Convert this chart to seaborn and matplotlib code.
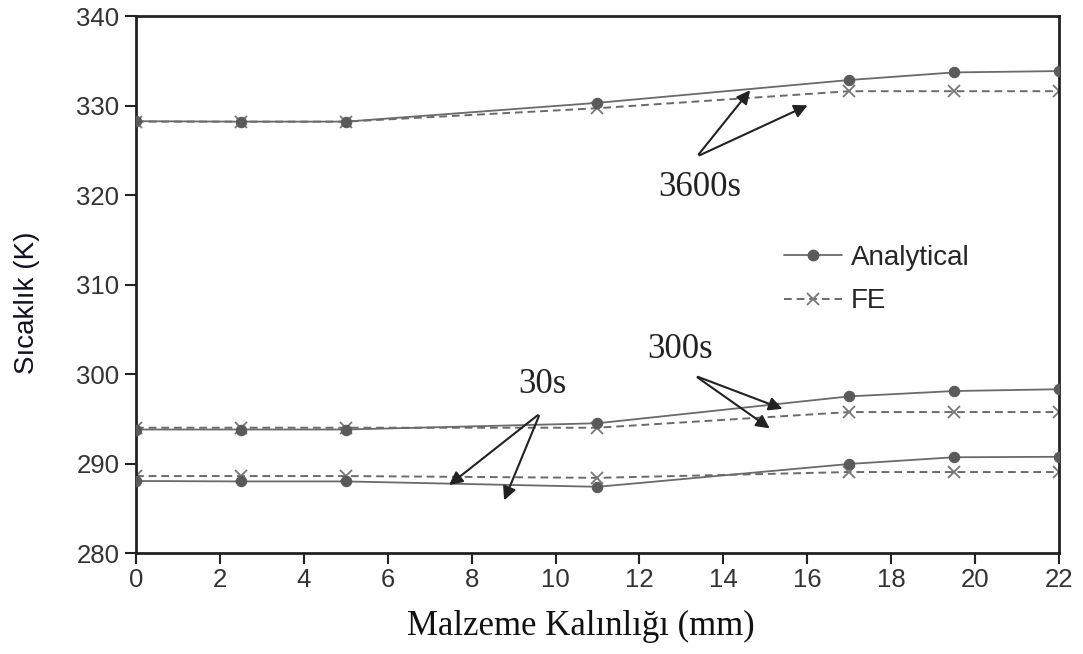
import matplotlib
matplotlib.use("Agg")
import matplotlib.pyplot as plt
import seaborn as sns
import pandas as pd
from matplotlib.lines import Line2D

# data
thickness = [0, 2.5, 5, 11, 17, 19.5, 22]
an_3600 = [328.25, 328.2, 328.2, 330.3, 332.85, 333.7, 333.85]
fe_3600 = [328.2, 328.2, 328.2, 329.7, 331.6, 331.6, 331.6]
an_300 = [293.8, 293.8, 293.8, 294.5, 297.5, 298.1, 298.3]
fe_300 = [294.0, 294.0, 294.0, 294.0, 295.75, 295.75, 295.75]
an_30 = [288.05, 288.0, 288.0, 287.4, 289.95, 290.7, 290.75]
fe_30 = [288.6, 288.6, 288.6, 288.4, 289.05, 289.05, 289.05]
x_ticks = [0, 2, 4, 6, 8, 10, 12, 14, 16, 18, 20, 22]
y_ticks = [280, 290, 300, 310, 320, 330, 340]

sns.set_style("ticks")
plt.rcParams['font.family'] = ['Liberation Sans', 'DejaVu Sans']

fig = plt.figure(figsize=(10.83, 6.54), dpi=100)
ax = fig.add_axes([0.1256, 0.1544, 0.8522, 0.8211])

rows = []
for t, an, fe in [("3600s", an_3600, fe_3600), ("300s", an_300, fe_300), ("30s", an_30, fe_30)]:
    for xv, a, f in zip(thickness, an, fe):
        rows.append({"x": xv, "y": a, "method": "Analytical", "time": t})
        rows.append({"x": xv, "y": f, "method": "FE", "time": t})
df = pd.DataFrame(rows)

line_col = "#6a6a6a"
mk_col = "#5a5a5a"
for t in ["3600s", "300s", "30s"]:
    sub_a = df[(df.time == t) & (df.method == "Analytical")]
    sub_f = df[(df.time == t) & (df.method == "FE")]
    sns.lineplot(data=sub_f, x="x", y="y", ax=ax, color=line_col, linestyle=(0, (4, 2.5)),
                 linewidth=1.4, marker="x", markersize=9, markeredgewidth=1.3,
                 markeredgecolor="#777777", legend=False, zorder=2)
    sns.lineplot(data=sub_a, x="x", y="y", ax=ax, color=line_col, linestyle="-",
                 linewidth=1.3, marker="o", markersize=7.5, markerfacecolor=mk_col,
                 markeredgecolor=mk_col, legend=False, zorder=3)

ax.set_xlim(0, 22)
ax.set_ylim(280, 340)
ax.set_xticks(x_ticks)
ax.set_yticks(y_ticks)
ax.tick_params(axis="both", direction="out", length=8, width=1.5, labelsize=18.5,
               colors="#222222", labelcolor="#333333", pad=3)
ax.tick_params(axis="y", pad=4)
for s in ax.spines.values():
    s.set_linewidth(2)
    s.set_color("#222222")

ax.set_xlabel("Malzeme Kalınlığı (mm)", fontsize=25, family=["Liberation Serif", "DejaVu Serif"],
              labelpad=13, color="#111111")
ax.xaxis.label.set_x(0.482)
ax.set_ylabel("Sıcaklık (K)", fontsize=20, color="#111122")
ax.yaxis.set_label_coords(-0.104, 0.4655)

# annotations
serif = ["Liberation Serif", "DejaVu Serif"]
arrow = dict(arrowstyle="-|>", color="#222222", lw=1.5, mutation_scale=20)
ann = [
    ("3600s", (13.44, 320.8), (13.37, 324.3), [(14.68, 331.95), (16.07, 330.15)]),
    ("300s", (12.97, 302.7), (13.33, 299.8), [(15.47, 296.0), (15.16, 293.75)]),
    ("30s", (9.68, 298.8), (9.63, 295.6), [(7.41, 287.4), (8.75, 285.6)]),
]
for label, tpos, tail, heads in ann:
    ax.text(tpos[0], tpos[1], label, fontsize=25, family=serif, ha="center", va="center", color="#222222")
    for h in heads:
        ax.annotate("", xy=h, xytext=tail, arrowprops=arrow)

handles = [
    Line2D([], [], color=line_col, linestyle="-", linewidth=1.3, marker="o", markersize=7.5,
           markerfacecolor=mk_col, markeredgecolor=mk_col),
    Line2D([], [], color=line_col, linestyle=(0, (4, 2.5)), linewidth=1.4, marker="x", markersize=9,
           markeredgewidth=1.3, markeredgecolor="#777777"),
]
ax.legend(handles, ["Analytical", "FE"], loc="upper left", bbox_to_anchor=(0.675, 0.62), frameon=False,
          fontsize=20, handlelength=2.1, handletextpad=0.3, labelspacing=0.62)

fig.savefig("out.png", dpi=100)
